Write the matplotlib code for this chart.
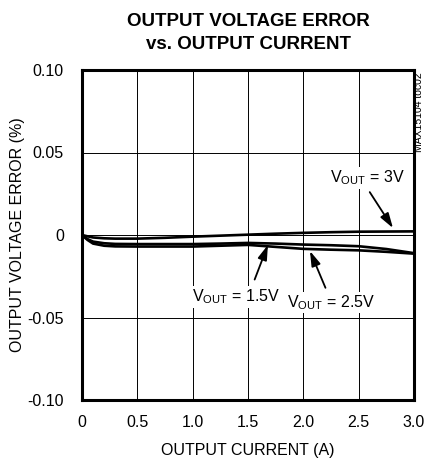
import matplotlib
matplotlib.use("Agg")
import matplotlib.pyplot as plt
from matplotlib import font_manager

names = {f.name for f in font_manager.fontManager.ttflist}
narrow = "Liberation Sans Narrow" if "Liberation Sans Narrow" in names else "Liberation Sans"
plt.rcParams['font.family'] = [narrow, 'DejaVu Sans']
plt.rcParams['mathtext.fontset'] = 'custom'
plt.rcParams['mathtext.rm'] = narrow

current = [0.0, 0.05, 0.1, 0.2, 0.3, 0.5, 0.75, 1.0, 1.25, 1.5, 1.75, 2.0, 2.25, 2.5, 2.75, 3.0]
err_3v = [0.0, -0.0008, -0.0015, -0.002, -0.0022, -0.0022, -0.0017, -0.001, -0.0004, 0.0002, 0.0008, 0.0013, 0.0017, 0.002, 0.0021, 0.0022]
err_15v = [0.0, -0.0025, -0.004, -0.005, -0.0054, -0.0055, -0.0055, -0.0055, -0.0052, -0.0048, -0.0052, -0.0058, -0.0062, -0.0068, -0.0085, -0.011]
err_25v = [0.0, -0.003, -0.0052, -0.0065, -0.0069, -0.007, -0.007, -0.007, -0.0065, -0.006, -0.0072, -0.0084, -0.0089, -0.0093, -0.0102, -0.0113]

xticks = [0, 0.5, 1.0, 1.5, 2.0, 2.5, 3.0]
xticklabels = ["0", "0.5", "1.0", "1.5", "2.0", "2.5", "3.0"]
yticks = [-0.10, -0.05, 0, 0.05, 0.10]
yticklabels = ["-0.10", "-0.05", "0", "0.05", "0.10"]

fig = plt.figure(figsize=(4.25, 4.66), dpi=100)
ax = fig.add_axes([82/425, 1-400/466, 332/425, 330/466])

for y in (err_3v, err_15v, err_25v):
    ax.plot(current, y, color='black', lw=1.9, solid_capstyle='butt', zorder=3)

ax.set_xlim(0, 3.0)
ax.set_ylim(-0.10, 0.10)
ax.set_xticks(xticks)
ax.set_xticklabels(xticklabels)
ax.set_yticks(yticks)
ax.set_yticklabels(yticklabels)
ax.tick_params(axis='y', length=0, labelsize=11.5, pad=13)
ax.tick_params(axis='x', length=0, labelsize=11.5, pad=11)
ax.grid(True, color='black', lw=0.7)
for s in ax.spines.values():
    s.set_linewidth(2.2)

ax.set_xlabel("OUTPUT CURRENT (A)", fontsize=11.5, labelpad=9)
ax.set_ylabel("OUTPUT VOLTAGE ERROR (%)", fontsize=11.5, labelpad=1.5)

fig.text(248/425, 1-33/466, "OUTPUT VOLTAGE ERROR\nvs. OUTPUT CURRENT", ha='center', va='center',
         fontsize=13.5, fontweight='bold', linespacing=1.5)

fig.text(419/425, 1-112/466, "MAX15104 toc02", rotation=90, ha='center', va='center', fontsize=7.5)

bbox = dict(facecolor='white', edgecolor='none', pad=1)
arrow = dict(arrowstyle='-|>,head_length=0.9,head_width=0.28', color='black', lw=1.3, shrinkA=0, shrinkB=0)

ax.text(2.24, 0.0345, r"V$_{\mathrm{OUT}}$ = 3V", fontsize=11.5, ha='left', va='center', bbox=bbox, zorder=5)
ax.annotate("", xy=(2.81, 0.0042), xytext=(2.6, 0.026), arrowprops=arrow, zorder=5)

ax.text(0.99, -0.0376, r"V$_{\mathrm{OUT}}$ = 1.5V", fontsize=11.5, ha='left', va='center', bbox=bbox, zorder=5)
ax.annotate("", xy=(1.68, -0.006), xytext=(1.56, -0.027), arrowprops=arrow, zorder=5)

ax.text(1.85, -0.041, r"V$_{\mathrm{OUT}}$ = 2.5V", fontsize=11.5, ha='left', va='center', bbox=bbox, zorder=5)
ax.annotate("", xy=(2.06, -0.0097), xytext=(2.2, -0.032), arrowprops=arrow, zorder=5)

fig.savefig("out.png", dpi=100)
